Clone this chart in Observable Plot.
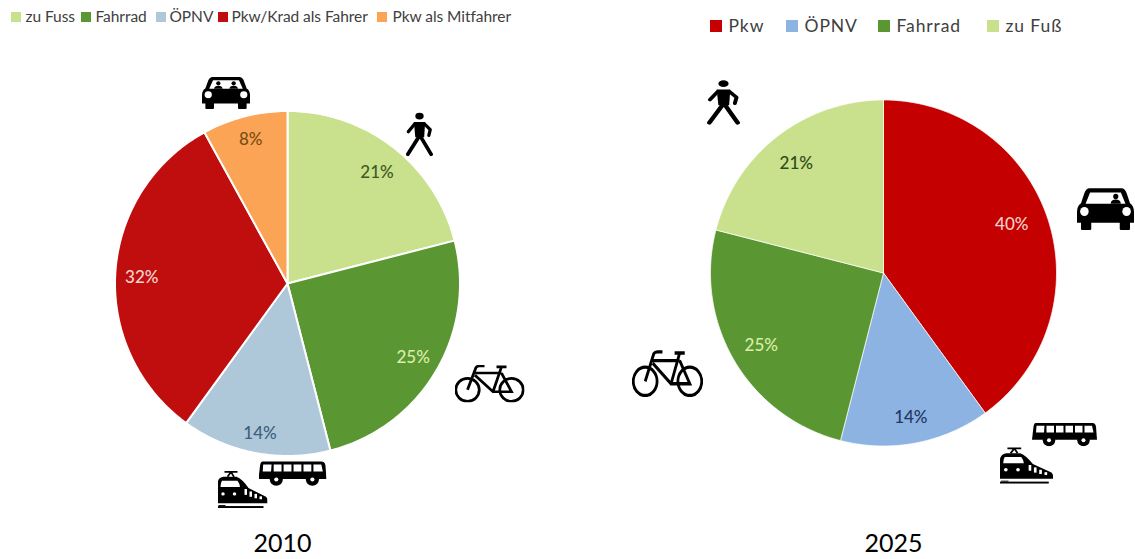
<!DOCTYPE html>
<html lang="de">
<head>
<meta charset="utf-8">
<title>Modal Split 2010 und 2025</title>
<script src="https://cdn.jsdelivr.net/npm/d3@7"></script>
<script src="https://cdn.jsdelivr.net/npm/@observablehq/plot@0.6"></script>
<style>
  html, body { margin: 0; padding: 0; background: #fff; }
  svg { display: block; }
  .leg2010 text { letter-spacing: -0.05px; }
  .leg2025 text { letter-spacing: 0.9px; }
</style>
</head>
<body>
<div id="chart"></div>
<script>
// ---------- Data ----------
const categories2010 = ["zu Fuss", "Fahrrad", "ÖPNV", "Pkw/Krad als Fahrer", "Pkw als Mitfahrer"];
const values2010 = [21, 25, 14, 32, 8];
const colors2010 = ["#c9e08d", "#5a9632", "#aec8da", "#c00d0d", "#fba455"];
const labelColors2010 = ["#3f5a20", "#d9eea8", "#3f5f7d", "#f5d6d0", "#7c4c14"];

const categories2025 = ["Pkw", "ÖPNV", "Fahrrad", "zu Fuß"];
const values2025 = [40, 14, 25, 21];
const colors2025 = ["#c40000", "#8db3e2", "#5a9632", "#c9e08d"];
const labelColors2025 = ["#f5d0c8", "#1f3864", "#d9eea8", "#2f4a18"];

// ---------- Layout (pixels, not data) ----------
const W = 1135, H = 559;
const pie2010 = {year: "2010", cx: 287, cy: 283, r: 172.5, gap: 2, labelR: [146, 146, 152, 146, 148],
  labelOff: [[0, 4], [0, 0], [1, 1], [0, 3], [0, -1]], yearX: 282};
const pie2025 = {year: "2025", cx: 883, cy: 272.5, r: 173, gap: 0.7, labelR: [138, 146, 142, 139],
  labelOff: [[-3, -6], [0, 1], [0, 0], [-2, 0]], yearX: 893};
const legend2010 = {y: 17, size: 10, font: 15.5, swatch: [11, 81, 156, 218, 377], text: [25, 95, 169, 231, 392]};
const legend2025 = {y: 26, size: 12, font: 17.5, swatch: [710, 786, 878, 987], text: [728, 804, 896, 1005]};

// ---------- Icons (inline SVG) ----------
const svgUri = (vb, body) => "data:image/svg+xml," + encodeURIComponent(
  `<svg xmlns="http://www.w3.org/2000/svg" viewBox="${vb}" preserveAspectRatio="none">${body}</svg>`);

const carBase = occupants => svgUri("0 0 100 72", `
  <rect x="7" y="54" width="18" height="18" rx="2"/><rect x="75" y="54" width="18" height="18" rx="2"/>
  <path d="M22 2H78Q84 2 87 10L93 27Q100 31 100 42V60H0V42Q0 31 7 27L13 10Q16 2 22 2Z"/>
  <path d="M23 9H77L85 28H15Z" fill="#fff"/>
  ${occupants}
  <circle cx="13" cy="41" r="7.5" fill="#fff"/><circle cx="87" cy="41" r="7.5" fill="#fff"/>`);
const person = x => `<circle cx="${x}" cy="16" r="4.5"/><path d="M${x - 9} 28Q${x - 8} 21 ${x} 21Q${x + 8} 21 ${x + 9} 28Z"/>`;
const carIcon2 = carBase(person(34) + person(66));
const carIcon1 = carBase(person(68));

const walkIcon = svgUri("0 0 60 100", `
  <ellipse cx="30" cy="9" rx="9" ry="7.5"/>
  <path d="M18 22H42L40 56H21Z"/>
  <path d="M20 26L6 44M40 26L53 39L50 52" fill="none" stroke="#000" stroke-width="7" stroke-linejoin="round" stroke-linecap="round"/>
  <path d="M28 56L5 94M33 56L55 94" fill="none" stroke="#000" stroke-width="8" stroke-linecap="round"/>`);

const bikeIcon = svgUri("0 0 140 78", `
  <g fill="none" stroke="#000" stroke-width="5.5">
    <circle cx="26" cy="52" r="23.5"/><circle cx="114" cy="52" r="23.5"/>
    <path d="M26 52L43 6Q45 3 50 3H60M39 17.5H94M41 22L77 56H114L94 17.5M77 56L94 5M84 5H104"/>
  </g>`);

const busIcon = svgUri("0 0 130 50", `
  <path d="M8 1H120Q127 1 128 9L130 36H0L3 9Q4 1 8 1Z"/>
  <g fill="#fff"><path d="M9 7H25L24 21H8Z"/><path d="M29 7H44V21H29Z"/>
  <path d="M48 7H63V21H48Z"/><path d="M67 7H82V21H67Z"/>
  <path d="M86 7H101V21H86Z"/><path d="M105 7H120L123 21H105Z"/></g>
  <circle cx="34" cy="37" r="12.5"/><circle cx="103" cy="37" r="12.5"/>
  <circle cx="34" cy="37" r="4" fill="#fff"/><circle cx="103" cy="37" r="4" fill="#fff"/>`);

const trainIcon = svgUri("0 0 100 78", `
  <path d="M14 3H40M27 3L20 13M27 3L33 13" fill="none" stroke="#000" stroke-width="3.5"/>
  <path d="M12 13H38Q50 18 62 36L97 54Q100 57 100 60V67H0V28Q0 15 12 13Z"/>
  <path d="M9 21H40Q44 26 45 34H6Q6 25 9 21Z" fill="#fff"/>
  <circle cx="11" cy="48" r="3.5" fill="#fff"/><circle cx="34" cy="48" r="3.5" fill="#fff"/>
  <g fill="#fff"><rect x="54" y="38" width="5" height="12"/><rect x="64" y="43" width="5" height="11"/>
  <rect x="74" y="48" width="5" height="9"/><rect x="84" y="53" width="5" height="6"/></g>
  <rect x="2" y="71" width="14" height="2" /><rect x="0" y="73" width="92" height="4"/>`);

const icons = [
  {src: carIcon2,  x: 225.5, y: 92,  w: 48, h: 33},
  {src: walkIcon,  x: 419,   y: 134, w: 28, h: 45},
  {src: bikeIcon,  x: 489,   y: 383, w: 70, h: 38},
  {src: busIcon,   x: 292,   y: 473, w: 68, h: 25},
  {src: trainIcon, x: 242,   y: 489, w: 50, h: 38},
  {src: walkIcon,  x: 723,   y: 102, w: 34, h: 46},
  {src: carIcon1,  x: 1105,  y: 208, w: 57, h: 43},
  {src: bikeIcon,  x: 667,   y: 373, w: 71, h: 47},
  {src: busIcon,   x: 1064,  y: 434, w: 65, h: 24},
  {src: trainIcon, x: 1026,  y: 465, w: 53, h: 37}
];

// ---------- Derived tables ----------
function slices(cats, vals, cols, labCols, pie) {
  const total = d3.sum(vals);
  let acc = 0;
  return cats.map((c, i) => {
    const a0 = acc / total * 2 * Math.PI;
    acc += vals[i];
    const a1 = acc / total * 2 * Math.PI;
    const mid = (a0 + a1) / 2;
    const n = Math.ceil((a1 - a0) * 180 / Math.PI);
    const pts = [{x: pie.cx, y: pie.cy}];
    for (let k = 0; k <= n; ++k) {
      const a = a0 + (a1 - a0) * k / n;
      pts.push({x: pie.cx + pie.r * Math.sin(a), y: pie.cy - pie.r * Math.cos(a)});
    }
    pts.push({x: pie.cx, y: pie.cy});
    return {
      key: pie.year + " " + c, color: cols[i], labelColor: labCols[i], pts,
      label: vals[i] + "%",
      lx: pie.cx + pie.labelR[i] * Math.sin(mid) + pie.labelOff[i][0],
      ly: pie.cy - pie.labelR[i] * Math.cos(mid) + pie.labelOff[i][1]
    };
  });
}
const s2010 = slices(categories2010, values2010, colors2010, labelColors2010, pie2010);
const s2025 = slices(categories2025, values2025, colors2025, labelColors2025, pie2025);
const polyRows = s => s.flatMap(d => d.pts.map(p => ({...p, key: d.key, color: d.color})));

const legendRows = (cats, cols, lg) => cats.map((c, i) => ({
  name: c, color: cols[i], sx: lg.swatch[i] + lg.size / 2, tx: lg.text[i], y: lg.y
}));
const leg2010 = legendRows(categories2010, colors2010, legend2010);
const leg2025 = legendRows(categories2025, colors2025, legend2025);

const font = "Lato, 'Open Sans', sans-serif";

const sliceMark = (s, gap) => Plot.line(polyRows(s), {
  x: "x", y: "y", z: "key", fill: d => d.color, stroke: "#fff", strokeWidth: gap,
  strokeLinejoin: "round", curve: "linear"
});
const labelMark = s => Plot.text(s, {
  x: "lx", y: "ly", text: "label", fill: d => d.labelColor,
  fontSize: 17, fontFamily: font, fontWeight: 500
});
const swatchMark = (rows, lg) => Plot.rect(rows, {
  x1: d => d.sx - lg.size / 2, x2: d => d.sx + lg.size / 2,
  y1: d => d.y - lg.size / 2, y2: d => d.y + lg.size / 2,
  fill: d => d.color
});
const legendText = (rows, lg, cls) => Plot.text(rows, {
  x: "tx", y: "y", text: "name", textAnchor: "start", fill: "#404040",
  fontSize: lg.font, fontFamily: font, className: cls
});

const chart = Plot.plot({
  width: W, height: H,
  margin: 0,
  style: {background: "#fff"},
  x: {domain: [0, W], range: [0, W], axis: null},
  y: {domain: [0, H], range: [0, H], axis: null},
  marks: [
    sliceMark(s2010, pie2010.gap),
    sliceMark(s2025, pie2025.gap),
    labelMark(s2010),
    labelMark(s2025),
    swatchMark(leg2010, legend2010),
    swatchMark(leg2025, legend2025),
    legendText(leg2010, legend2010, "leg2010"),
    legendText(leg2025, legend2025, "leg2025"),
    Plot.image(icons, {
      x: "x", y: "y", width: "w", height: "h", src: "src", preserveAspectRatio: "none"
    }),
    Plot.text([pie2010, pie2025], {
      x: "yearX", y: 543, text: "year", fontSize: 25, fill: "#000", fontFamily: font
    })
  ]
});
document.getElementById("chart").append(chart);
</script>
</body>
</html>
